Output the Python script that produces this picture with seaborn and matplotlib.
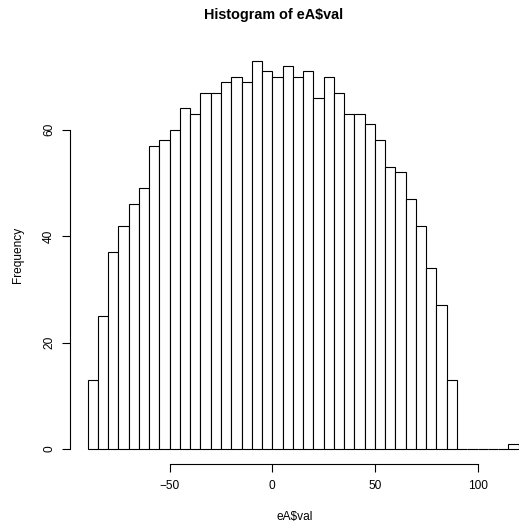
import numpy as np
import pandas as pd
import matplotlib
matplotlib.use("Agg")
import matplotlib.pyplot as plt
import seaborn as sns

# Data (bin width 5, from -90 to 120)
bin_left = list(range(-90, 120, 5))
counts = [13, 25, 37, 42, 46, 49, 57, 58, 60, 64, 63, 67, 67, 69, 70, 69,
          73, 71, 70, 72, 70, 71, 66, 70, 67, 63, 63, 61, 58, 53, 52, 47,
          42, 34, 27, 13, 0, 0, 0, 0, 0, 1]
x_ticks = [-50, 0, 50, 100]
y_ticks = [0, 20, 40, 60]
title = "Histogram of eA$val"
xlabel = "eA$val"
ylabel = "Frequency"

edges = bin_left + [bin_left[-1] + 5]
df = pd.DataFrame({"val": [b + 2.5 for b in bin_left], "n": counts})

sns.set_style("white")
plt.rcParams["font.family"] = ["Liberation Sans", "DejaVu Sans"]
plt.rcParams["text.color"] = "black"
plt.rcParams["axes.labelcolor"] = "black"
plt.rcParams["xtick.color"] = "black"
plt.rcParams["ytick.color"] = "black"

fig = plt.figure(figsize=(5.19, 5.28), dpi=100)
ax = fig.add_axes([0.1355, 0.1203, 0.8645, 0.7943])

sns.histplot(data=df, x="val", weights="n", bins=edges, color="white",
             edgecolor="black", linewidth=0.8, alpha=1, ax=ax)

ax.set_xlim(-98.4, 120.2)
ax.set_ylim(-2.92, 75.92)

for s in ["top", "right"]:
    ax.spines[s].set_visible(False)
ax.spines["bottom"].set_bounds(-50, 100)
ax.spines["left"].set_bounds(0, 60)
for s in ["bottom", "left"]:
    ax.spines[s].set_color("black")
    ax.spines[s].set_linewidth(0.8)

ax.set_xticks(x_ticks)
ax.set_yticks(y_ticks)
ax.set_xticklabels(["\u221250", "0", "50", "100"])
ax.tick_params(axis="both", direction="out", length=5.5, width=0.8,
               color="black", labelcolor="black", labelsize=8.6, pad=5.5,
               bottom=True, left=True)
ax.tick_params(axis="y", labelrotation=90)
for lab in ax.get_yticklabels():
    lab.set_va("center")

ax.set_xlabel(xlabel, fontsize=8.6, labelpad=14, color="black")
ax.set_ylabel(ylabel, fontsize=8.6, labelpad=14, color="black")
fig.text(0.527, 0.971, title, ha="center", va="center",
         fontsize=10.4, fontweight="bold", color="black")
ax.grid(False)

fig.savefig("out.png", dpi=100)
